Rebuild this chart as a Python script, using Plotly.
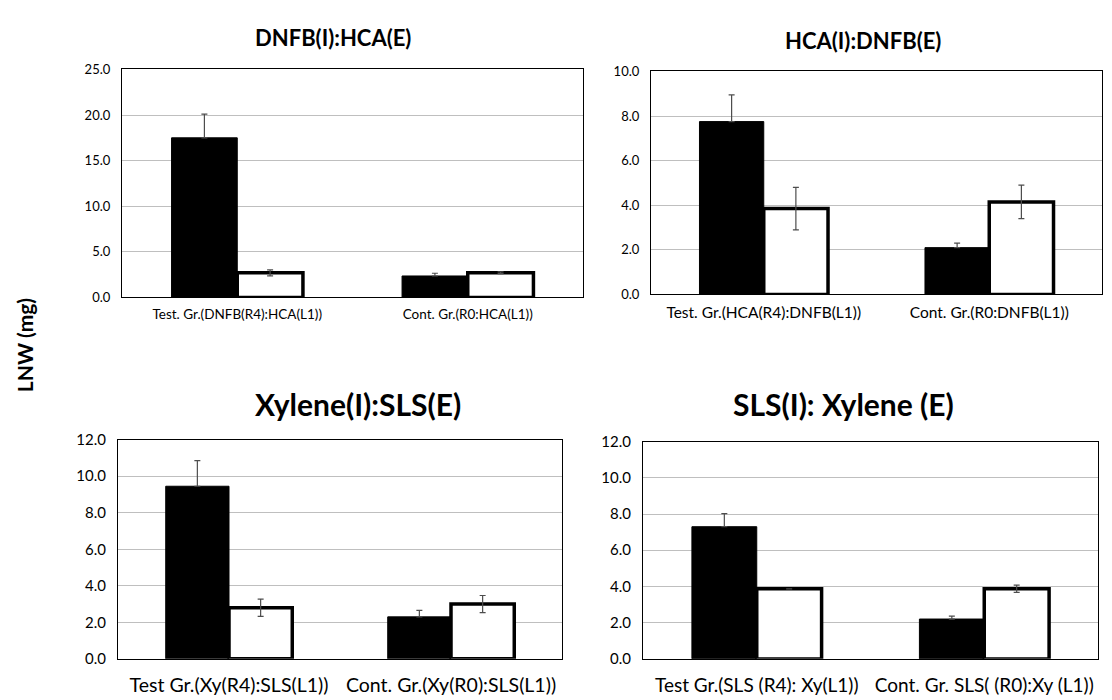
import plotly.graph_objects as go

# ---- data ----
titles = ["DNFB(I):HCA(E)", "HCA(I):DNFB(E)", "Xylene(I):SLS(E)", "SLS(I): Xylene (E)"]

cats_1 = ["Test. Gr.(DNFB(R4):HCA(L1))", "Cont. Gr.(R0:HCA(L1))"]
black_1 = [17.5, 2.35]
black_err_1 = [2.6, 0.3]
white_1 = [2.7, 2.7]
white_err_1 = [0.33, 0.1]

cats_2 = ["Test. Gr.(HCA(R4):DNFB(L1))", "Cont. Gr.(R0:DNFB(L1))"]
black_2 = [7.75, 2.1]
black_err_2 = [1.2, 0.2]
white_2 = [3.85, 4.15]
white_err_2 = [0.95, 0.75]

cats_3 = ["Test Gr.(Xy(R4):SLS(L1))", "Cont. Gr.(Xy(R0):SLS(L1))"]
black_3 = [9.45, 2.3]
black_err_3 = [1.4, 0.35]
white_3 = [2.8, 3.0]
white_err_3 = [0.47, 0.47]

cats_4 = ["Test Gr.(SLS (R4): Xy(L1))", "Cont. Gr. SLS( (R0):Xy (L1))"]
black_4 = [7.3, 2.2]
black_err_4 = [0.72, 0.16]
white_4 = [3.87, 3.87]
white_err_4 = [0.0, 0.2]

y_max = [25, 10, 12, 12]
y_dtick = [5, 2, 2, 2]
y_label = "LNW (mg)"

FONT = "Lato"
W, H = 1112, 700

# plot-area pixel boxes: (left, right, top, bottom)
boxes = [(122, 583, 61, 295), (651, 1102, 63, 292), (118, 562, 441, 666), (643, 1098, 443, 666)]
title_pos = [(333, 28, 22), (863, 31, 22), (358, 404, 30), (843, 404, 30)]
tick_sz = [13, 13, 15, 15]
xtick_sz = [13.5, 15.5, 19.5, 19]
xtick_standoff = [4, 4, 9, 9]

panels = [
    (cats_1, black_1, black_err_1, white_1, white_err_1),
    (cats_2, black_2, black_err_2, white_2, white_err_2),
    (cats_3, black_3, black_err_3, white_3, white_err_3),
    (cats_4, black_4, black_err_4, white_4, white_err_4),
]

fig = go.Figure()
err_col = "#4d4d4d"
for i, (cats, b, be, w, we) in enumerate(panels):
    ax = "" if i == 0 else str(i + 1)
    fig.add_trace(go.Bar(
        x=cats, y=b, xaxis="x" + ax, yaxis="y" + ax,
        marker=dict(color="black", line=dict(color="black", width=1)),
        error_y=dict(type="data", array=be, arrayminus=[0] * len(be), symmetric=False,
                     color=err_col, thickness=1.2, width=3),
        showlegend=False, offsetgroup="a",
    ))
    fig.add_trace(go.Bar(
        x=cats, y=w, xaxis="x" + ax, yaxis="y" + ax,
        marker=dict(color="white", line=dict(color="black", width=3.5)),
        error_y=dict(type="data", array=we, color=err_col, thickness=1.2, width=3,
                     visible=True),
        showlegend=False, offsetgroup="b",
    ))
    l, r, t, btm = boxes[i]
    fig.layout["xaxis" + ax] = dict(
        domain=[l / W, r / W], anchor="y" + ax, showline=True, mirror=True,
        linecolor="black", linewidth=1.2, showgrid=False, ticks="",
        tickfont=dict(family=FONT, size=xtick_sz[i], color="black"),
        ticklabelstandoff=xtick_standoff[i], fixedrange=True,
    )
    fig.layout["yaxis" + ax] = dict(
        domain=[1 - btm / H, 1 - t / H], anchor="x" + ax, range=[0, y_max[i]],
        dtick=y_dtick[i], tickformat=".1f", showline=True, mirror=True,
        linecolor="black", linewidth=1.2, showgrid=True, gridcolor="#bfbfbf",
        gridwidth=1, zeroline=False, ticks="",
        tickfont=dict(family=FONT, size=tick_sz[i], color="black"),
        ticklabelstandoff=8, fixedrange=True,
    )
    tx, ty, ts = title_pos[i]
    fig.add_annotation(text="<b>" + titles[i] + "</b>", x=tx / W, y=1 - ty / H,
                       xref="paper", yref="paper", showarrow=False,
                       xanchor="center", yanchor="middle",
                       font=dict(family=FONT, size=ts, color="black"))

fig.add_annotation(text="<b>" + y_label + "</b>", x=24 / W, y=1 - 344 / H,
                   xref="paper", yref="paper", showarrow=False, textangle=-90,
                   xanchor="center", yanchor="middle",
                   font=dict(family=FONT, size=21, color="black"))

fig.update_layout(
    width=W, height=H, margin=dict(l=0, r=0, t=0, b=0),
    paper_bgcolor="white", plot_bgcolor="white",
    barmode="group", bargap=0.43, bargroupgap=0,
    font=dict(family=FONT, color="black"),
)

fig.write_html("out.html")
